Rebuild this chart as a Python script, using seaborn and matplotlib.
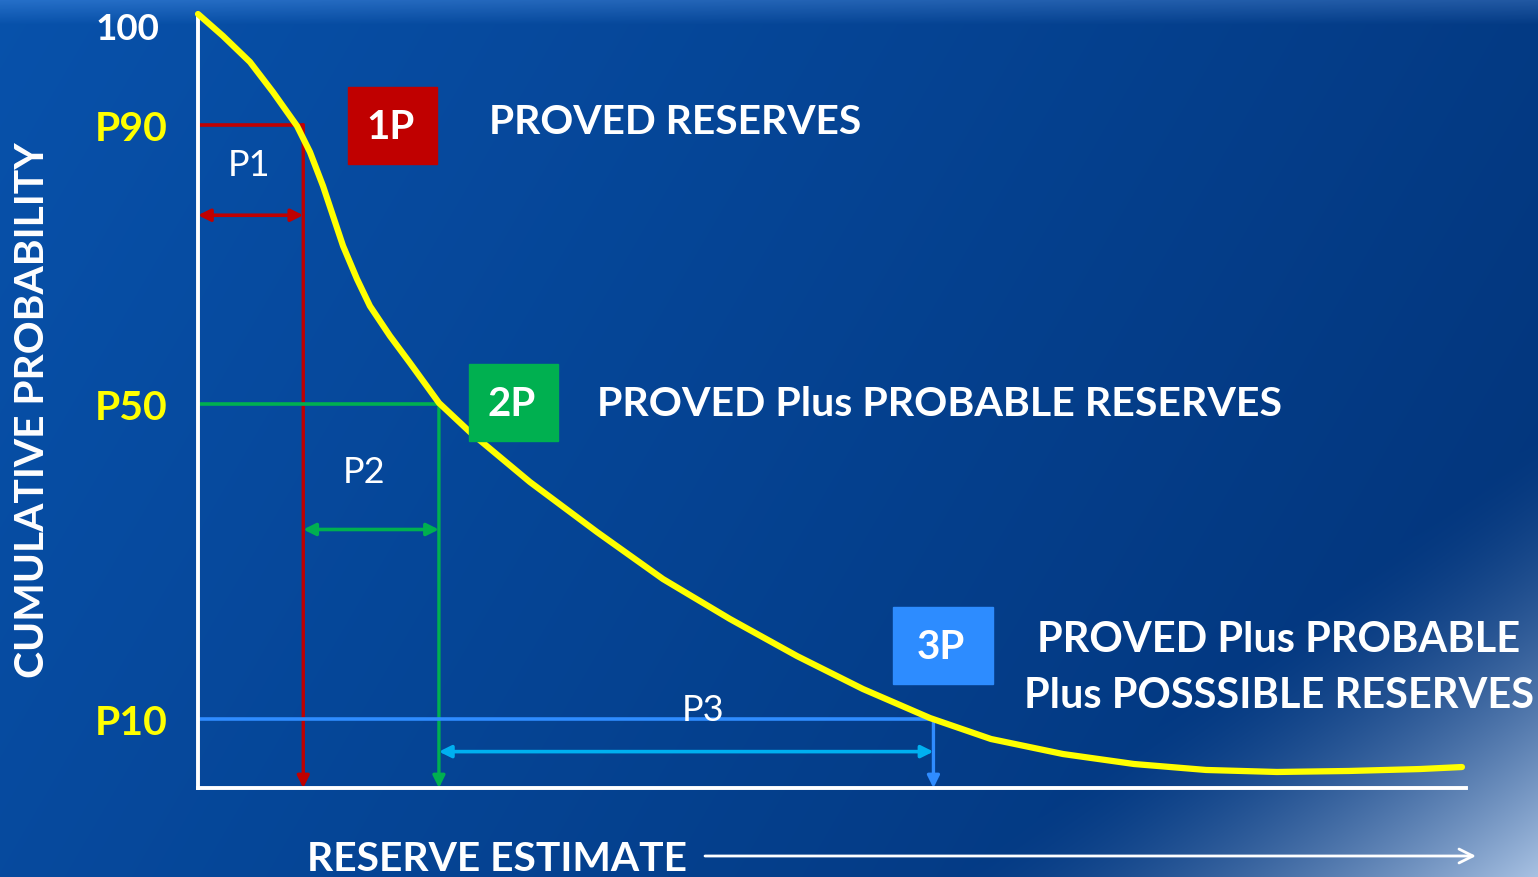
import numpy as np
import pandas as pd
import matplotlib
matplotlib.use("Agg")
import matplotlib.pyplot as plt
from matplotlib.patches import Rectangle
import seaborn as sns

# Curve (x = reserve estimate, y = cumulative probability, axis units 0-100)
reserve = [0, 1.97, 4.10, 5.91, 7.81, 8.83, 9.86, 10.65, 11.44, 12.54, 13.56, 15.14,
           16.72, 19.01, 21.45, 26.18, 31.47, 36.67, 41.96, 47.24, 52.44, 57.73, 62.54,
           68.22, 73.82, 79.50, 85.09, 90.77, 96.37, 99.68]
probability = [100, 97.16, 93.80, 89.92, 85.53, 82.17, 77.78, 73.90, 70.03, 65.76, 62.27,
               58.40, 54.91, 49.74, 45.99, 39.53, 33.07, 27.00, 21.83, 17.05, 12.79, 9.04,
               6.33, 4.39, 3.10, 2.33, 2.07, 2.20, 2.45, 2.71]

# P levels: height on the axis and where the curve crosses them
levels = ["P90", "P50", "P10"]
level_prob = [85.7, 49.6, 8.9]
level_reserve = [8.3, 19.0, 58.0]
level_colors = ["#C00000", "#00B050", "#2F8CFF"]
span_colors = ["#C00000", "#00B050", "#00B0F0"]
span_labels = ["P1", "P2", "P3"]
span_heights = [74.0, 33.4, 4.7]

boxes = ["1P", "2P", "3P"]
box_colors = ["#C00000", "#00B050", "#2D8CFF"]
box_texts = ["PROVED RESERVES", "PROVED Plus PROBABLE RESERVES",
             "PROVED Plus PROBABLE\nPlus POSSSIBLE RESERVES"]

W, H = 1538, 878
FONT = "Lato"


def fpx(x, y):
    # pixel position -> figure fraction
    return x / W, 1 - y / H


def background():
    yy, xx = np.mgrid[0:H, 0:W]
    t = np.clip(0.75 * xx / W + 0.25 * yy / H, 0, 1)[..., None]
    left = np.array([0.03, 0.32, 0.67])
    right = np.array([0.01, 0.20, 0.47])
    img = left * (1 - t) + right * t
    top = np.clip(1 - yy / 25, 0, 1)[..., None] * 0.12
    img = img + top
    s = (xx - W) / 580 + (yy - H) / 440
    w = (np.clip(1 + s, 0, 1) ** 1.5)[..., None]
    light = np.array([0.66, 0.76, 0.89])
    img = img * (1 - w) + light * w
    return np.clip(img, 0, 1)


sns.set_theme(style="white")
plt.rcParams["font.family"] = [FONT, "DejaVu Sans"]

fig = plt.figure(figsize=(W / 100, H / 100), dpi=100)
bg = fig.add_axes([0, 0, 1, 1], zorder=0)
bg.imshow(background(), aspect="auto", extent=[0, W, H, 0])
bg.axis("off")

ax = fig.add_axes([198 / W, 89 / H, 1268 / W, 774 / H], zorder=1)
ax.set_facecolor("none")
ax.set_xlim(0, 100)
ax.set_ylim(0, 100)

df = pd.DataFrame({"reserve": reserve, "probability": probability})
for i, lvl in enumerate(levels):
    c = level_colors[i]
    ax.plot([0, level_reserve[i]], [level_prob[i]] * 2, color=c, lw=2.6, zorder=2)
    ax.annotate("", xy=(level_reserve[i], 0), xytext=(level_reserve[i], level_prob[i]),
                arrowprops=dict(arrowstyle="-|>", color=c, lw=2.4, mutation_scale=18,
                                shrinkA=0, shrinkB=0), zorder=2)
    x0 = 0 if i == 0 else level_reserve[i - 1]
    ax.annotate("", xy=(x0, span_heights[i]), xytext=(level_reserve[i], span_heights[i]),
                arrowprops=dict(arrowstyle="<|-|>", color=span_colors[i], lw=2.6,
                                mutation_scale=18, shrinkA=0, shrinkB=0), zorder=2)

sns.lineplot(data=df, x="reserve", y="probability", ax=ax, color="#FFFF00", lw=4.5,
             zorder=4, clip_on=False, solid_joinstyle="round")

for side in ["top", "right"]:
    ax.spines[side].set_visible(False)
for side in ["left", "bottom"]:
    ax.spines[side].set_color("white")
    ax.spines[side].set_linewidth(2.8)
    ax.spines[side].set_zorder(3)

ax.set_xticks([])
ax.set_yticks(level_prob)
ax.set_yticklabels(levels)
ax.tick_params(axis="y", length=0, pad=74)
for lab in ax.get_yticklabels():
    lab.set_horizontalalignment("left")
    lab.set_color("#FFFF00")
    lab.set_fontsize(29.5)
    lab.set_fontweight("bold")
ax.set_xlabel("")
ax.set_ylabel("")

fig.text(*fpx(96, 30), "100", color="white", fontsize=26.5, fontweight="bold",
         ha="left", va="center")
fig.text(*fpx(33, 410), "CUMULATIVE PROBABILITY", color="white", fontsize=29.3,
         fontweight="bold", rotation=90, ha="center", va="center")
fig.text(*fpx(497, 860), "RESERVE ESTIMATE", color="white", fontsize=29.3,
         fontweight="bold", ha="center", va="center")
ax.annotate("", xy=(1476, H - 857), xytext=(705, H - 857), xycoords="figure pixels",
            textcoords="figure pixels",
            arrowprops=dict(arrowstyle="->", color="white", lw=2, mutation_scale=25,
                            shrinkA=0, shrinkB=0))

# span labels
for lab, (x, y) in zip(span_labels, [(249, 166), (364, 473), (703, 711)]):
    fig.text(*fpx(x, y), lab, color="white", fontsize=26, ha="center", va="center",
             zorder=5)

# coloured boxes and descriptions
box_pos = [(348, 88, 89, 77), (469, 365, 89, 77), (893, 608, 100, 77)]
text_pos = [(489, 122, "left", 29.3), (597, 405, "left", 29.6), (1279, 668, "center", 29.9)]
for name, c, (bx, by, bw, bh), txt, (tx, ty, ha, fs) in zip(boxes, box_colors, box_pos,
                                                            box_texts, text_pos):
    fig.add_artist(Rectangle((bx / W, 1 - (by + bh) / H), bw / W, bh / H,
                             transform=fig.transFigure, color=c, zorder=5))
    fig.text(*fpx(bx + bw / 2 - 2, by + bh / 2 + 1), name, color="white", fontsize=29,
             fontweight="bold", ha="center", va="center", zorder=6)
    fig.text(*fpx(tx, ty), txt, color="white", fontsize=fs, fontweight="bold", ha=ha,
             va="center", linespacing=1.6, zorder=6)

fig.savefig("out.png", dpi=100)
